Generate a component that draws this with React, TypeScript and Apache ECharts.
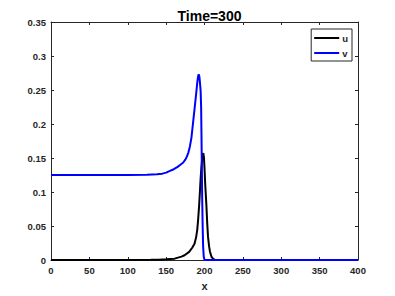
import React, { useEffect, useRef } from "react";
import * as echarts from "echarts";

const titleText = "Time=300";
const xName = "x";
const seriesNames = ["u", "v"];
const seriesColors = ["#000000", "#0000ff"];

// u (black)
const uData: [number, number][] = [
  [0, 0], [100, 0], [130, 0.0002], [140, 0.0005], [150, 0.001], [161, 0.002],
  [170, 0.005], [174, 0.007], [180, 0.012], [184, 0.018], [187, 0.024],
  [189, 0.033], [190.5, 0.044], [191.6, 0.058], [193, 0.08], [194, 0.1],
  [195, 0.121], [196, 0.137], [197, 0.149], [198, 0.156], [198.5, 0.157],
  [199.3, 0.15], [200, 0.135], [201, 0.11], [202.4, 0.082], [203.5, 0.055],
  [204.6, 0.034], [206, 0.02], [207, 0.013], [209, 0.005], [211, 0.002],
  [213, 0.0005], [216, 0], [400, 0],
];

// v (blue)
const vData: [number, number][] = [
  [0, 0.125], [100, 0.125], [125, 0.1253], [138, 0.126], [145, 0.127],
  [150, 0.1285], [155, 0.131], [160, 0.1335], [165, 0.137], [169, 0.1405],
  [172, 0.143], [175, 0.1475], [177, 0.152], [179, 0.158], [181, 0.167],
  [183, 0.18], [185, 0.201], [187, 0.222], [189, 0.243], [190.5, 0.26],
  [191.5, 0.269], [192.4, 0.273], [193.3, 0.27], [194, 0.262], [195, 0.248],
  [195.6, 0.225], [196, 0.19], [196.5, 0.14], [197, 0.09], [197.6, 0.05],
  [198.2, 0.02], [199, 0.005], [200, 0], [400, 0],
];

const xMin = 0, xMax = 400, xStep = 50;
const yMin = 0, yMax = 0.35, yStep = 0.05;

export default function App() {
  const ref = useRef<HTMLDivElement>(null);
  useEffect(() => {
    if (!ref.current) return;
    const chart = echarts.init(ref.current, undefined, { renderer: "svg" });
    const labelStyle = {
      color: "#262626",
      fontSize: 9.5,
      fontWeight: "bold" as const,
      fontFamily: "Liberation Sans, Arial, sans-serif",
    };
    const axisLine = { show: true, onZero: false, lineStyle: { color: "#262626", width: 1 } };
    const axisTick = { show: true, inside: true, length: 3, lineStyle: { color: "#262626", width: 1 } };
    chart.setOption({
      animation: false,
      backgroundColor: "#ffffff",
      title: {
        text: titleText,
        left: 204.5,
        textAlign: "center",
        top: 4,
        textStyle: {
          fontSize: 14,
          fontWeight: "bold",
          color: "#000000",
          fontFamily: "Liberation Sans, Arial, sans-serif",
        },
      },
      grid: { left: 51, right: 37, top: 22, bottom: 33, containLabel: false },
      legend: {
        data: seriesNames.map((n, i) => ({ name: n, itemStyle: { color: seriesColors[i] } })),
        orient: "vertical",
        right: 43,
        top: 29,
        icon: "rect",
        itemWidth: 25,
        itemHeight: 2,
        itemGap: 5,
        padding: [4, 4, 3, 3],
        borderColor: "#262626",
        borderWidth: 1,
        backgroundColor: "#ffffff",
        textStyle: { ...labelStyle, padding: [0, 0, 0, -2] },
      },
      xAxis: [
        {
          type: "value",
          min: xMin,
          max: xMax,
          interval: xStep,
          position: "bottom",
          name: xName,
          nameLocation: "middle",
          nameGap: 20,
          nameTextStyle: { ...labelStyle, fontSize: 11 },
          axisLine,
          axisTick,
          splitLine: { show: false },
          axisLabel: { ...labelStyle, margin: 5 },
        },
        {
          type: "value",
          min: xMin,
          max: xMax,
          interval: xStep,
          position: "top",
          axisLine,
          axisTick,
          splitLine: { show: false },
          axisLabel: { show: false },
        },
      ],
      yAxis: [
        {
          type: "value",
          min: yMin,
          max: yMax,
          interval: yStep,
          position: "left",
          axisLine,
          axisTick,
          splitLine: { show: false },
          axisLabel: { ...labelStyle, margin: 5 },
        },
        {
          type: "value",
          min: yMin,
          max: yMax,
          interval: yStep,
          position: "right",
          axisLine,
          axisTick,
          splitLine: { show: false },
          axisLabel: { show: false },
        },
      ],
      series: [
        {
          name: seriesNames[0],
          type: "line",
          data: uData,
          showSymbol: false,
          symbol: "none",
          lineStyle: { color: seriesColors[0], width: 2 },
          itemStyle: { color: seriesColors[0] },
          z: 2,
        },
        {
          name: seriesNames[1],
          type: "line",
          data: vData,
          showSymbol: false,
          symbol: "none",
          lineStyle: { color: seriesColors[1], width: 2 },
          itemStyle: { color: seriesColors[1] },
          z: 3,
        },
      ],
    });
    return () => chart.dispose();
  }, []);
  return <div ref={ref} style={{ width: 395, height: 296, position: "absolute", left: 0, top: 0 }} />;
}
